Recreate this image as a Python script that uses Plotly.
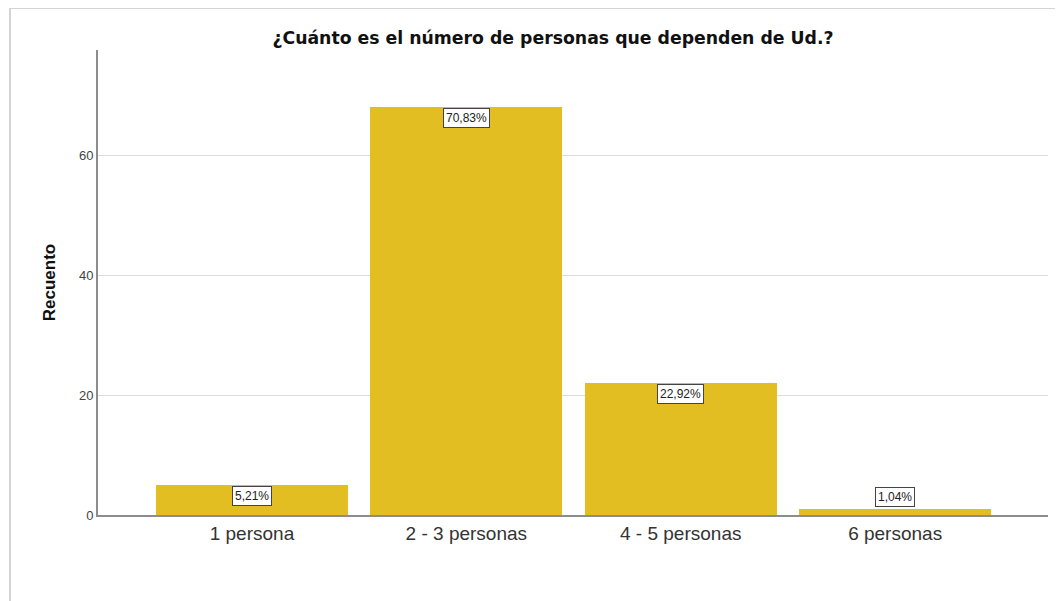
import plotly.graph_objects as go

categorias = ['1 persona', '2 - 3 personas', '4 - 5 personas', '6 personas']
recuento = [5, 68, 22, 1]
porcentajes = ['5,21%', '70,83%', '22,92%', '1,04%']
y_ticks = [0, 20, 40, 60]

# page body adds an 8px margin, so the figure is drawn 8px smaller
OFF = 8
W, H = 1063 - OFF, 601 - OFF
L, R, T, B = 98 - OFF, 15, 50 - OFF, 86
plot_w, plot_h = W - L - R, H - T - B
Y_MAX = 77.5


def px_x(p):
    return (p - OFF - L) / plot_w


def px_y(p):
    return (OFF + H - B - p) / plot_h


fig = go.Figure()
fig.add_trace(go.Bar(
    x=list(range(len(categorias))), y=recuento,
    width=0.895,
    marker=dict(color='#E2BE22', line=dict(width=0)),
    hoverinfo='skip',
))

for i, (v, lbl) in enumerate(zip(recuento, porcentajes)):
    small = v * plot_h / Y_MAX < 20
    fig.add_annotation(
        x=i, y=v, text=lbl, showarrow=False,
        yanchor='bottom' if small else 'top',
        yshift=2 if small else -1,
        font=dict(family='Liberation Sans, Arial', size=12, color='#222'),
        bgcolor='white', bordercolor='#444', borderwidth=1, borderpad=2,
    )

# outer frame of the SPSS output
fig.add_shape(type='rect', xref='paper', yref='paper',
              x0=px_x(10), x1=px_x(1061), y0=px_y(603), y1=px_y(8),
              line=dict(color='#d4d4d4', width=2), layer='below')

fig.update_layout(
    width=W, height=H,
    margin=dict(l=L, r=R, t=T, b=B),
    plot_bgcolor='white', paper_bgcolor='white',
    showlegend=False,
    bargap=0,
    title=dict(text='<b>¿Cuánto es el número de personas que dependen de Ud.?</b>',
               x=px_x(553), xref='paper', xanchor='center',
               y=1 - (38 - OFF) / H, yanchor='middle',
               font=dict(family='DejaVu Sans', size=17.3, color='#111')),
    xaxis=dict(
        tickmode='array', tickvals=list(range(len(categorias))), ticktext=categorias,
        range=[-0.718, 3.713], showgrid=False, zeroline=False,
        showline=True, linecolor='#8c8c8c', linewidth=2, ticks='',
        tickfont=dict(family='Liberation Sans, Arial', size=19, color='#333'),
    ),
    yaxis=dict(
        title=dict(text='<b>Recuento</b>', standoff=19,
                   font=dict(family='Liberation Sans, Arial', size=17, color='#111')),
        range=[0, Y_MAX], tickvals=y_ticks,
        showgrid=True, gridcolor='#dcdcdc', gridwidth=1, zeroline=False,
        showline=True, linecolor='#8c8c8c', linewidth=2, ticks='',
        tickfont=dict(family='Liberation Sans, Arial', size=13, color='#444'),
    ),
)

fig.write_html('out.html')
